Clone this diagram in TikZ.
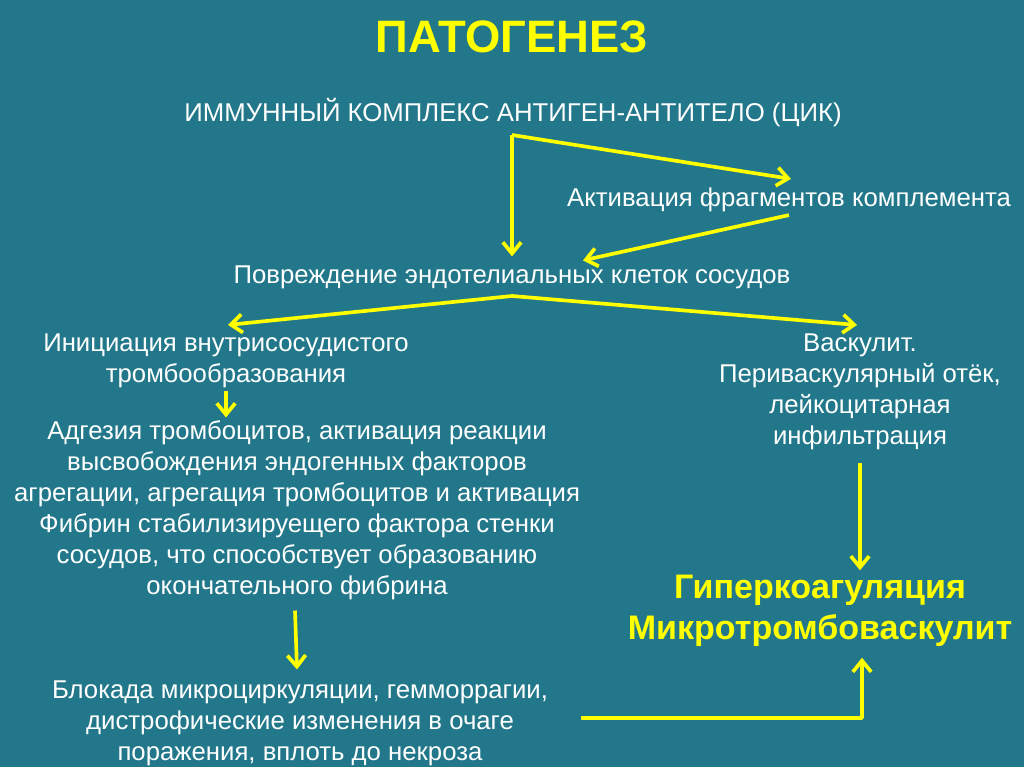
\documentclass[tikz,border=0pt]{standalone}
\usepackage{fontspec}
\setmainfont{Liberation Sans}
\usetikzlibrary{arrows.meta,calc}
\definecolor{slide}{HTML}{22788A}
\definecolor{ylw}{HTML}{FFFF00}
\tikzstyle{txt}=[text=white, align=center, inner sep=2pt, font=\fontsize{18.3}{22}\selectfont]
\tikzstyle{hot}=[text=ylw, align=center, inner sep=2pt, font=\bfseries\fontsize{24.2}{29}\selectfont]

\begin{document}
\begin{tikzpicture}[x=0.025cm, y=-0.025cm,
	arr/.style = {draw=ylw, line width=2.6pt, line join=round, -{Straight Barb[length=8pt,width=13pt,line width=2.6pt]}}]

	\fill[slide] (0,0) rectangle (1024,767);

	\node[hot, font=\bfseries\fontsize{32.3}{40}\selectfont] (title) at (512,37) {ПАТОГЕНЕЗ};
	\node[txt] (imk) at (513,113) {ИММУННЫЙ КОМПЛЕКС АНТИГЕН-АНТИТЕЛО (ЦИК)};
	\node[txt] (akt) at (789,200) {Активация фрагментов комплемента};
	\node[txt] (povr) at (512,277) {Повреждение эндотелиальных клеток сосудов};
	\node[txt] (init) at (226,361) {Инициация внутрисосудистого\\тромбообразования};
	\node[txt] (vask) at (860,392) {Васкулит.\\Периваскулярный отёк,\\лейкоцитарная\\инфильтрация};
	\node[txt] (adg) at (297,510) {Адгезия тромбоцитов, активация реакции\\высвобождения эндогенных факторов\\агрегации, агрегация тромбоцитов и активация\\Фибрин стабилизируещего фактора стенки\\сосудов, что способствует образованию\\окончательного фибрина};
	\node[hot] (giper) at (820,611) {Гиперкоагуляция\\Микротромбоваскулит};
	\node[txt] (blok) at (300,723) {Блокада микроциркуляции, гемморрагии,\\дистрофические изменения в очаге\\поражения, вплоть до некроза};

	\coordinate (fork) at (512,135);
	\coordinate (split) at (512,296);
	\coordinate (bend) at (862,718);

	\draw[arr] (fork) -- ($(akt.north)+(2,-6)$);
	\draw[arr] (fork) -- ($(povr.north)+(0,-6)$);
	\draw[arr] (akt.south) -- ($(povr.north)+(71,-2)$);
	\draw[arr] (split) -- ($(init.north)+(2,-6)$);
	\draw[arr] (split) -- ($(vask.north)+(-3,-6)$);
	\draw[arr] (init.south) -- (init.south |- adg.north);
	\draw[arr] ($(adg.south)+(-2,8)$) -- ($(blok.north)+(-3,-8)$);
	\draw[arr] ($(vask.south)+(0,10)$) -- ($(vask.south |- giper.north)+(0,-2)$);
	\draw[arr] ($(blok.east)+(30,-5)$) -- (bend) -- ($(giper.south)+(42,8)$);

\end{tikzpicture}
\end{document}
